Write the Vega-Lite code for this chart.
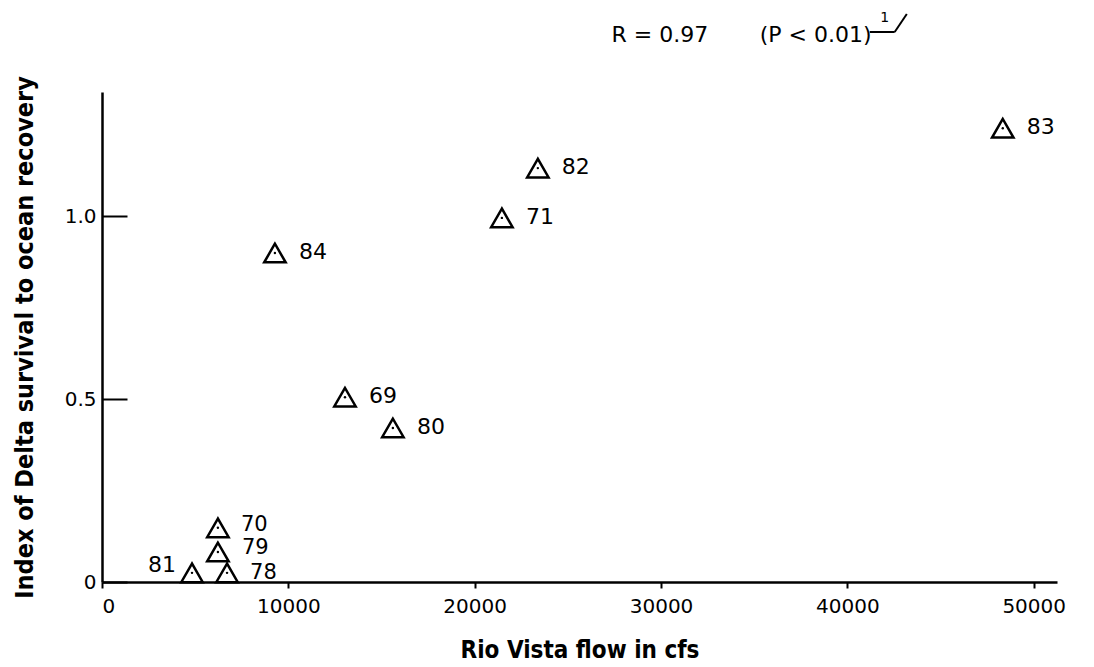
{
  "$schema": "https://vega.github.io/schema/vega-lite/v6.json",
  "width": 955,
  "height": 490,
  "autosize": {"type": "none"},
  "padding": {"left": 102, "top": 92, "right": 37, "bottom": 85},
  "background": "white",
  "config": {
    "view": {"stroke": null},
    "axis": {"grid": false, "domainColor": "black", "tickColor": "black", "labelColor": "black", "titleColor": "black"}
  },
  "datasets": {
    "pts": [
      {"year": "69", "flow": 13040, "index": 0.505},
      {"year": "70", "flow": 6220, "index": 0.148},
      {"year": "71", "flow": 21460, "index": 0.995},
      {"year": "78", "flow": 6710, "index": 0.025},
      {"year": "79", "flow": 6220, "index": 0.082},
      {"year": "80", "flow": 15610, "index": 0.421},
      {"year": "81", "flow": 4830, "index": 0.025},
      {"year": "82", "flow": 23390, "index": 1.131},
      {"year": "83", "flow": 48340, "index": 1.24},
      {"year": "84", "flow": 9280, "index": 0.899}
    ]
  },
  "layer": [
    {
      "data": {"name": "pts"},
      "mark": {"type": "point", "shape": "triangle-up", "filled": false, "stroke": "black", "strokeWidth": 2.5, "size": 460, "opacity": 1},
      "encoding": {
        "x": {
          "field": "flow", "type": "quantitative",
          "scale": {"domain": [0, 51250], "nice": false, "zero": false},
          "axis": {
            "values": [0, 10000, 20000, 30000, 40000, 50000], "format": "d",
            "labelFont": "DejaVu Sans", "labelFontSize": 20, "labelPadding": 8,
            "tickSize": 6, "tickWidth": 2, "domainWidth": 2.5,
            "title": "Rio Vista flow in cfs", "titleFont": "DejaVu Sans Condensed", "titleFontWeight": "bold", "titleFontSize": 24, "titlePadding": 22
          }
        },
        "y": {
          "field": "index", "type": "quantitative",
          "scale": {"domain": [0, 1.339], "nice": false, "zero": false},
          "axis": {
            "values": [0, 0.5, 1], "labelExpr": "datum.value == 0 ? '0' : format(datum.value, '.1f')",
            "labelFont": "DejaVu Sans", "labelFontSize": 20, "labelPadding": 31,
            "tickSize": -25, "tickWidth": 2, "domainWidth": 2.5,
            "title": "Index of Delta survival to ocean recovery", "titleFont": "DejaVu Sans Condensed", "titleFontWeight": "bold", "titleFontSize": 25, "titlePadding": 27
          }
        }
      }
    },
    {
      "data": {"name": "pts"},
      "mark": {"type": "circle", "size": 6, "color": "black", "opacity": 1},
      "encoding": {
        "x": {"field": "flow", "type": "quantitative"},
        "y": {"field": "index", "type": "quantitative"}
      }
    },
    {
      "data": {"name": "pts"},
      "transform": [{"filter": "datum.year != '81' && datum.year != '79' && datum.year != '78' && datum.year != '70'"}],
      "mark": {"type": "text", "align": "left", "baseline": "middle", "dx": 24, "dy": -1, "font": "DejaVu Sans", "fontSize": 22, "color": "black"},
      "encoding": {
        "x": {"field": "flow", "type": "quantitative"},
        "y": {"field": "index", "type": "quantitative"},
        "text": {"field": "year"}
      }
    },
    {
      "data": {"name": "pts"},
      "transform": [{"filter": "datum.year == '70'"}],
      "mark": {"type": "text", "align": "left", "baseline": "middle", "dx": 23, "dy": -3, "font": "DejaVu Sans", "fontSize": 21, "color": "black"},
      "encoding": {
        "x": {"field": "flow", "type": "quantitative"},
        "y": {"field": "index", "type": "quantitative"},
        "text": {"field": "year"}
      }
    },
    {
      "data": {"name": "pts"},
      "transform": [{"filter": "datum.year == '79'"}],
      "mark": {"type": "text", "align": "left", "baseline": "middle", "dx": 24, "dy": -4, "font": "DejaVu Sans", "fontSize": 21, "color": "black"},
      "encoding": {
        "x": {"field": "flow", "type": "quantitative"},
        "y": {"field": "index", "type": "quantitative"},
        "text": {"field": "year"}
      }
    },
    {
      "data": {"name": "pts"},
      "transform": [{"filter": "datum.year == '78'"}],
      "mark": {"type": "text", "align": "left", "baseline": "middle", "dx": 23, "dy": 0, "font": "DejaVu Sans", "fontSize": 21, "color": "black"},
      "encoding": {
        "x": {"field": "flow", "type": "quantitative"},
        "y": {"field": "index", "type": "quantitative"},
        "text": {"field": "year"}
      }
    },
    {
      "data": {"name": "pts"},
      "transform": [{"filter": "datum.year == '81'"}],
      "mark": {"type": "text", "align": "right", "baseline": "middle", "dx": -16, "dy": -8, "font": "DejaVu Sans", "fontSize": 22, "color": "black"},
      "encoding": {
        "x": {"field": "flow", "type": "quantitative"},
        "y": {"field": "index", "type": "quantitative"},
        "text": {"field": "year"}
      }
    },
    {
      "data": {"values": [{"label": "R = 0.97"}]},
      "mark": {"type": "text", "align": "center", "baseline": "middle", "font": "DejaVu Sans", "fontSize": 22, "color": "black"},
      "encoding": {
        "x": {"datum": 29940, "type": "quantitative"},
        "y": {"datum": 1.495, "type": "quantitative"},
        "text": {"field": "label"}
      }
    },
    {
      "data": {"values": [{"label": "(P < 0.01)"}]},
      "mark": {"type": "text", "align": "center", "baseline": "middle", "font": "DejaVu Sans", "fontSize": 22, "color": "black"},
      "encoding": {
        "x": {"datum": 38300, "type": "quantitative"},
        "y": {"datum": 1.495, "type": "quantitative"},
        "text": {"field": "label"}
      }
    },
    {
      "data": {"values": [{"label": "1"}]},
      "mark": {"type": "text", "align": "center", "baseline": "middle", "font": "DejaVu Sans", "fontSize": 14, "color": "black"},
      "encoding": {
        "x": {"datum": 42000, "type": "quantitative"},
        "y": {"datum": 1.54, "type": "quantitative"},
        "text": {"field": "label"}
      }
    },
    {
      "data": {"values": [{"part": "underline"}]},
      "mark": {"type": "rule", "color": "black", "strokeWidth": 2},
      "encoding": {
        "x": {"datum": 41200, "type": "quantitative"},
        "x2": {"datum": 42540},
        "y": {"datum": 1.503, "type": "quantitative"}
      }
    },
    {
      "data": {"values": [{"part": "slash"}]},
      "mark": {"type": "rule", "color": "black", "strokeWidth": 2},
      "encoding": {
        "x": {"datum": 42540, "type": "quantitative"},
        "x2": {"datum": 43190},
        "y": {"datum": 1.503, "type": "quantitative"},
        "y2": {"datum": 1.552}
      }
    }
  ]
}
